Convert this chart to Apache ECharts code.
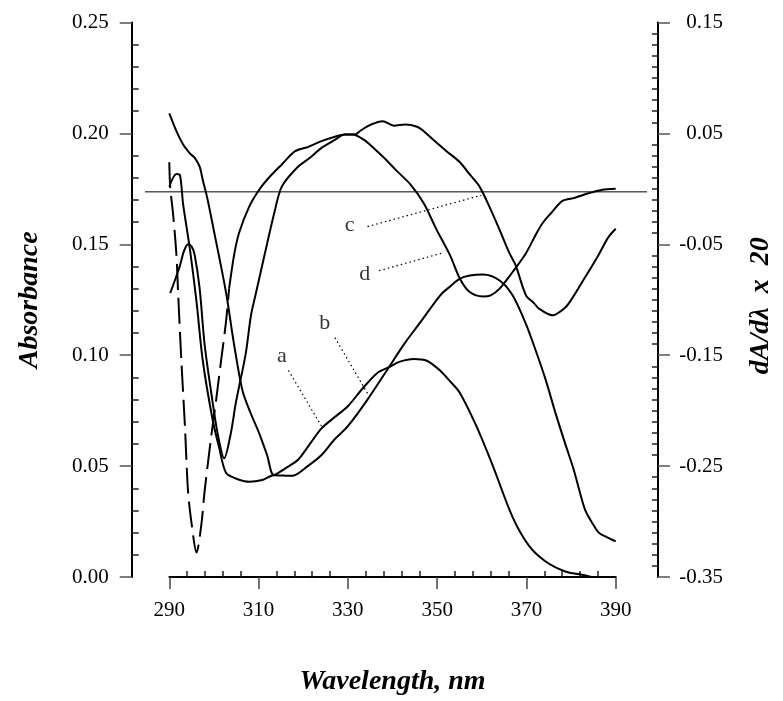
<!DOCTYPE html>
<html>
<head>
<meta charset="utf-8">
<script src="https://cdn.jsdelivr.net/npm/echarts/dist/echarts.min.js"></script>
<style>
html, body { margin: 0; padding: 0; background: #fff; }
#container { width: 783px; height: 701px; }
</style>
</head>
<body>
<div id="container"></div>
<script>
// absorbance spectra (left axis), [wavelength nm, absorbance]
var curveA = [
  [290, 0.209], [291.6, 0.201], [293.1, 0.195], [294.6, 0.191], [295.7, 0.189],
  [296.8, 0.185], [297.5, 0.179], [298.6, 0.170], [300.1, 0.155], [301.6, 0.140],
  [302.9, 0.126], [304.5, 0.105], [306.4, 0.084], [308.2, 0.074], [310.1, 0.065],
  [311.9, 0.055], [313.4, 0.046], [316, 0.049], [318.9, 0.053], [321.5, 0.060],
  [324.1, 0.067], [327, 0.072], [330, 0.077], [333.3, 0.085], [336.6, 0.092],
  [339.2, 0.0946], [341.5, 0.097], [344.8, 0.0983], [347.7, 0.0975], [350.7, 0.093],
  [353, 0.088], [355.1, 0.083], [358.8, 0.068], [362.5, 0.050], [366.9, 0.027],
  [370.6, 0.014], [374.3, 0.007], [378.7, 0.0025], [382.4, 0.001], [384.6, 0.0]
];
var curveB = [
  [290, 0.176], [291.6, 0.1817], [292.4, 0.181], [293.1, 0.168], [294.6, 0.148],
  [296.1, 0.124], [297.5, 0.0975], [299.7, 0.071], [301.2, 0.058], [302.7, 0.047],
  [304.9, 0.0444], [307.9, 0.0429], [310.8, 0.0437], [313.4, 0.0459], [317.5, 0.0456],
  [321, 0.050], [324.1, 0.055], [327, 0.062], [330, 0.068], [334.4, 0.080],
  [339.2, 0.0946], [342.6, 0.105], [346.3, 0.115], [350.7, 0.127], [352.9, 0.131],
  [355.1, 0.1345], [357.3, 0.1359], [360.3, 0.1364], [364, 0.1337], [366.9, 0.127],
  [369.9, 0.114], [372.1, 0.102], [374.3, 0.089], [376.5, 0.074], [378.7, 0.060],
  [380.5, 0.049], [382, 0.038], [383.2, 0.030], [384.7, 0.0245], [386.2, 0.020],
  [388, 0.018], [390, 0.0161]
];

// first-derivative spectra (right axis), [wavelength nm, dA/dλ x 20]
var derivC = [
  [290.2, -0.094], [291.3, -0.082], [292.4, -0.069], [293.3, -0.056], [294.2, -0.050],
  [295.0, -0.052], [295.7, -0.060], [296.8, -0.090], [297.9, -0.140], [299.4, -0.184],
  [300.8, -0.220], [302.3, -0.243], [303.8, -0.220], [304.9, -0.193], [307.1, -0.149],
  [308.3, -0.114], [309.3, -0.096], [311.6, -0.055], [313.5, -0.022], [315.2, 0.002],
  [318.6, 0.019], [321.5, 0.028], [324.1, 0.037], [327, 0.044], [329.3, 0.049],
  [331, 0.049], [333.7, 0.044], [336, 0.036], [338.1, 0.028], [341, 0.016],
  [344, 0.004], [347, -0.013], [349.9, -0.037], [352.9, -0.060], [355.1, -0.081],
  [357.3, -0.093], [360.3, -0.097], [362, -0.096], [364, -0.090], [366.9, -0.075],
  [369.9, -0.058], [372, -0.042], [373.6, -0.031], [375.5, -0.022], [378, -0.011],
  [380.9, -0.008], [383.9, -0.004], [386.8, -0.001], [390, 0.000]
];
var derivDDashed = [
  [290, 0.024], [290.2, 0.002], [290.9, -0.025], [291.6, -0.060], [292, -0.096],
  [292.7, -0.155], [293.5, -0.214], [294.2, -0.273], [295, -0.302], [296.1, -0.328],
  [297.2, -0.302], [297.9, -0.273], [299.4, -0.223], [300.5, -0.190], [301.6, -0.155],
  [302.7, -0.120], [303.4, -0.090]
];
var derivDSolid = [
  [303.4, -0.090], [304.5, -0.060], [305.6, -0.040], [307.9, -0.016], [310.1, -0.001],
  [312.3, 0.010], [315.2, 0.022], [318.2, 0.034], [321.2, 0.038], [324.1, 0.043],
  [327.1, 0.047], [329.3, 0.049], [331.5, 0.049], [333, 0.053], [335.2, 0.058],
  [337.8, 0.061], [340.3, 0.057], [342.9, 0.058], [345.5, 0.056], [347, 0.052],
  [349.2, 0.044], [352.1, 0.034], [355.1, 0.024], [357.3, 0.013], [359.5, 0.002],
  [361.7, -0.016], [364, -0.037], [366.2, -0.058], [367.6, -0.069], [369.9, -0.096],
  [371.7, -0.103], [372.8, -0.108], [375.8, -0.114], [378.7, -0.107], [380.2, -0.099],
  [383.1, -0.080], [386.1, -0.060], [388.3, -0.044], [390, -0.036]
];

// zero line of the derivative axis, drawn a little past the data range
var zeroLineX = [284.6, 395.8];

// curve labels and their dotted pointers, in [nm, absorbance]
var labelNames = ['a', 'b', 'c', 'd'];
var labelAt = [[315.2, 0.0997], [324.8, 0.1145], [330.4, 0.1588], [333.8, 0.1367]];
var pointerFrom = [[316.7, 0.0931], [327.1, 0.1079], [334.4, 0.1580], [337.0, 0.1381]];
var pointerTo = [[324.1, 0.0680], [334.4, 0.0828], [359.9, 0.1721], [351.4, 0.1462]];

var serif = 'Liberation Serif';
var myChart = echarts.init(document.getElementById('container'));

function curve(data, yIdx, dash) {
    return {
        type: 'line', xAxisIndex: 0, yAxisIndex: yIdx, data: data,
        symbol: 'none', smooth: 0.3, silent: true,
        lineStyle: { color: '#000', width: 2, type: dash || 'solid' }
    };
}

var series = [
    curve(curveA, 0),
    curve(curveB, 0),
    curve(derivC, 1),
    curve(derivDDashed, 1, [26, 8]),
    curve(derivDSolid, 1),
    {
        type: 'line', xAxisIndex: 1, yAxisIndex: 2, symbol: 'none', silent: true,
        data: [[zeroLineX[0], 0], [zeroLineX[1], 0]],
        lineStyle: { color: '#000', width: 1 }
    }
];
labelNames.forEach(function (n, i) {
    series.push({
        type: 'line', xAxisIndex: 0, yAxisIndex: 0, symbol: 'none', silent: true,
        data: [pointerFrom[i], pointerTo[i]],
        lineStyle: { color: '#000', width: 1.2, type: [1.5, 3] }
    });
});
series.push({
    type: 'scatter', xAxisIndex: 0, yAxisIndex: 0, symbolSize: 1, silent: true,
    itemStyle: { color: 'transparent' },
    data: labelNames.map(function (n, i) { return { name: n, value: labelAt[i] }; }),
    label: { show: true, position: 'inside', formatter: '{b}', color: '#000',
             fontFamily: serif, fontSize: 22 }
});

var tickLabel = { color: '#000', fontFamily: serif, fontSize: 21 };
var titleText = { color: '#000', fontFamily: serif, fontSize: 28,
                  fontWeight: 'bold', fontStyle: 'italic' };

option = {
    animation: false,
    backgroundColor: '#fff',
    grid: [
        { left: 169.3, right: 162, top: 22.5, bottom: 114 },
        { left: 145, right: 136, top: 22.5, bottom: 114 }
    ],
    xAxis: [
        {
            gridIndex: 0, type: 'value', min: 290, max: 390, interval: 20,
            splitLine: { show: false },
            axisLine: { show: true, lineStyle: { color: '#000', width: 2 } },
            axisTick: { show: true, length: 12, lineStyle: { color: '#444', width: 1.5 } },
            minorTick: { show: true, splitNumber: 5, length: -6, lineStyle: { color: '#222', width: 1.5 } },
            axisLabel: Object.assign({ margin: 23 }, tickLabel),
            name: 'Wavelength, nm', nameLocation: 'middle', nameGap: 91,
            nameTextStyle: titleText
        },
        { gridIndex: 1, type: 'value', min: zeroLineX[0], max: zeroLineX[1], show: false }
    ],
    yAxis: [
        {
            gridIndex: 0, type: 'value', position: 'left', offset: 37.6,
            min: 0, max: 0.25, interval: 0.05,
            splitLine: { show: false },
            axisLine: { show: true, lineStyle: { color: '#000', width: 2 } },
            axisTick: { show: true, length: 12, lineStyle: { color: '#555', width: 1.5 } },
            minorTick: { show: true, splitNumber: 5, length: -7, lineStyle: { color: '#222', width: 1.5 } },
            axisLabel: Object.assign({ margin: 23, formatter: function (v) { return v.toFixed(2); } }, tickLabel),
            name: 'Absorbance', nameLocation: 'middle', nameRotate: 90, nameGap: 88,
            nameTextStyle: titleText
        },
        {
            gridIndex: 0, type: 'value', position: 'right', offset: 42.3,
            min: -0.35, max: 0.15, interval: 0.1,
            splitLine: { show: false },
            axisLine: { show: true, lineStyle: { color: '#000', width: 2 } },
            axisTick: { show: true, length: 12, lineStyle: { color: '#555', width: 1.5 } },
            minorTick: { show: true, splitNumber: 10, length: -6, lineStyle: { color: '#222', width: 1.5 } },
            axisLabel: Object.assign({ margin: 65, align: 'right', formatter: function (v) { return v.toFixed(2); } }, tickLabel),
            name: 'dA/dλ  x  20', nameLocation: 'middle', nameRotate: 90, nameGap: 89,
            nameTextStyle: Object.assign({ padding: [0, 12, 0, 0] }, titleText)
        },
        { gridIndex: 1, type: 'value', min: -0.35, max: 0.15, show: false }
    ],
    series: series
};

if (option && typeof option === "object") {
    myChart.setOption(option, true);
}
</script>
</body>
</html>
